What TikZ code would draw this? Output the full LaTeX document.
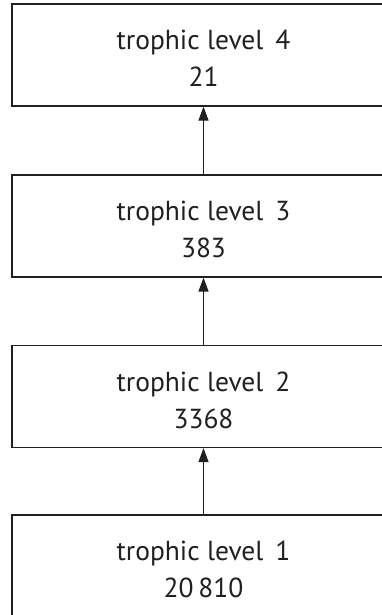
\documentclass[tikz,border=0pt]{standalone}
\usepackage{fontspec}
\setmainfont{PT Sans}
\usetikzlibrary{arrows.meta}
\definecolor{ink}{HTML}{231F20}
\newcommand{\toppad}{\rule{0pt}{27pt}}
\begin{document}
\begin{tikzpicture}[x=1pt,y=-1pt,
  levelbox/.style={draw=ink, line width=1.1pt, minimum width=383pt, minimum height=102pt,
    inner sep=0pt, align=center, font=\fontsize{27.5}{37}\selectfont, text=ink},
  uparrow/.style={draw=ink, line width=1pt, -{Triangle[length=14pt,width=10pt]}}]
\clip (0,0) rectangle (382,615);
\useasboundingbox (0,0) rectangle (382,615);
\node[levelbox] (l4) at (203.5,55) {\toppad trophic level\, 4\\21};
\node[levelbox] (l3) at (203.5,226) {\toppad trophic level\, 3\\383};
\node[levelbox] (l2) at (203.5,396.5) {\toppad trophic level\, 2\\3368};
\node[levelbox] (l1) at (203.5,566) {\toppad trophic level\, 1\\20\,810};
\draw[uparrow] (l1.north -| 203.5,0) -- (l2.south -| 203.5,0);
\draw[uparrow] (l2.north -| 203.5,0) -- (l3.south -| 203.5,0);
\draw[uparrow] (l3.north -| 203.5,0) -- (l4.south -| 203.5,0);
\end{tikzpicture}
\end{document}
